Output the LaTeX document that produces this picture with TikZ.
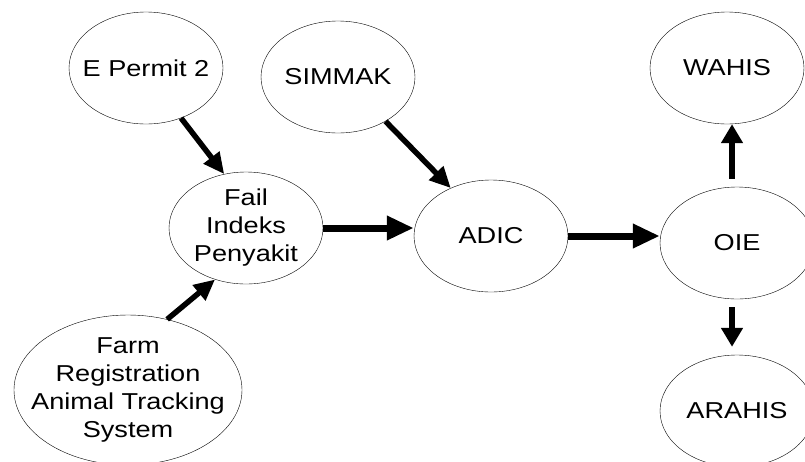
\documentclass[tikz,border=0pt]{standalone}
\usepackage{fontspec}
\setmainfont{Liberation Sans}[FakeStretch=1.18]
\usepackage{tikz}
\usetikzlibrary{arrows.meta,shapes.geometric}

\begin{document}
\begin{tikzpicture}[x=1pt,y=-1pt,semithick,
                    font=\fontsize{23}{28}\selectfont]
  \tikzstyle{sysnode}=[ellipse,draw=black,thin,align=center,text=black,
                       inner xsep=-30pt,inner ysep=-15pt,
                       minimum width=154pt,minimum height=112pt]
  \tikzstyle{bigarrow}=[-{Triangle[length=27pt,width=23pt]},line width=7pt]
  \tikzstyle{midarrow}=[-{Triangle[length=19pt,width=21pt]},line width=6.5pt]
  \tikzstyle{slimarrow}=[-{Triangle[length=21pt,width=19pt]},line width=5.5pt]

  \clip (0,0) rectangle (805,461);

  \node[sysnode] (EP) at (146,68)  {E Permit 2};
  \node[sysnode] (SM) at (338,77)  {SIMMAK};
  \node[sysnode] (FIP) at (246,228) {Fail\\Indeks\\Penyakit};
  \node[sysnode] (AD) at (491,236) {ADIC};
  \node[sysnode] (OIE) at (737,243) {OIE};
  \node[sysnode] (WA) at (727,68)  {WAHIS};
  \node[sysnode] (AR) at (737,411) {ARAHIS};
  \node[sysnode,minimum width=228pt,minimum height=150pt] (FR) at (128,390)
        {Farm\\Registration\\Animal Tracking\\System};

  \path (EP.-55)  edge [slimarrow] (FIP.112)
        (SM.-43)  edge [slimarrow] (AD.130)
        (FR.61)   edge [slimarrow] (FIP.-121)
        (FIP.east) edge [bigarrow] (FIP.east -| AD.west)
        (AD.east) edge [bigarrow] (AD.east -| OIE.west)
        ([xshift=-5pt,yshift=8pt]OIE.north) edge [midarrow]
              ([xshift=-5pt]OIE.north |- WA.south)
        ([xshift=-5pt,yshift=-8pt]OIE.south) edge [midarrow]
              ([xshift=-5pt,yshift=8pt]OIE.south |- AR.north);
\end{tikzpicture}
\end{document}
